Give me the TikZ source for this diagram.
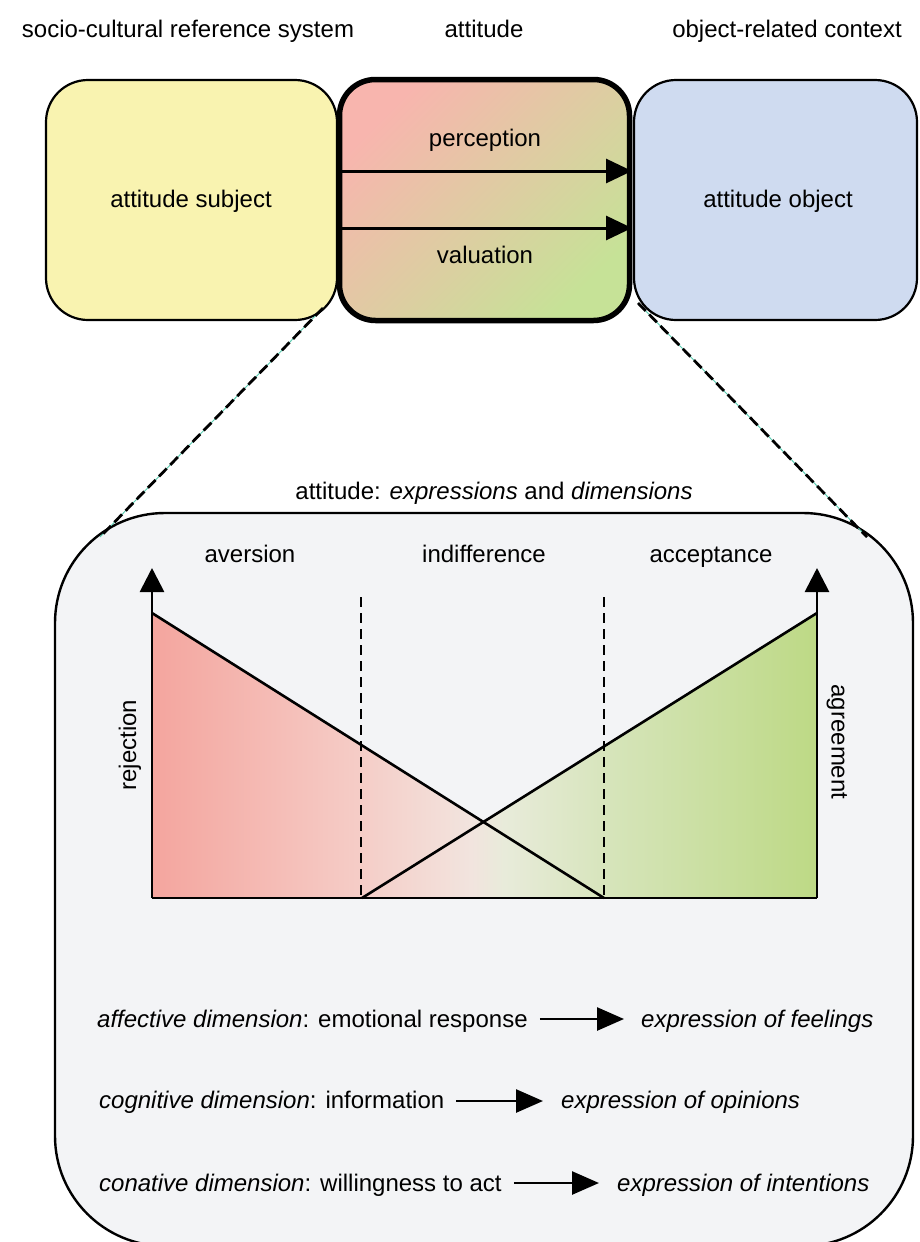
\documentclass[tikz,border=0pt]{standalone}
\usepackage{fontspec}
\setmainfont{Liberation Sans}
\usetikzlibrary{arrows.meta}
\definecolor{boxyellow}{HTML}{F9F3B0}
\definecolor{boxblue}{HTML}{CFDBF0}
\definecolor{panelgray}{HTML}{F3F4F6}
\definecolor{attpink}{HTML}{F8B5AE}
\definecolor{attmid}{HTML}{E2CDA2}
\definecolor{attgreen}{HTML}{C6E297}
\definecolor{guideteal}{HTML}{5ACBB0}
\pgfdeclarehorizontalshading{chartshade}{100bp}{rgb(0bp)=(0.957,0.647,0.620); rgb(25bp)=(0.957,0.647,0.620); rgb(40bp)=(0.961,0.796,0.773); rgb(49bp)=(0.949,0.894,0.871); rgb(51.5bp)=(0.91,0.922,0.855); rgb(60bp)=(0.835,0.894,0.722); rgb(75bp)=(0.741,0.851,0.522); rgb(100bp)=(0.741,0.851,0.522)}
\begin{document}
\begin{tikzpicture}[x=1pt,y=-1pt,
  every node/.style={font=\fontsize{24}{28}\selectfont, inner sep=0pt},
  sidebox/.style={draw=black, line width=2.2pt, rounded corners=42pt},
  bigarrow/.style={line width=3pt, -{Triangle[length=26pt,width=24pt]}},
  dimarrow/.style={line width=2.6pt, -{Triangle[length=27pt,width=23pt]}},
  axisarrow/.style={line width=2.8pt, -{Triangle[length=24pt,width=24pt]}},
  guide/.style={line width=2.8pt, dash pattern=on 11pt off 5pt},
  divider/.style={line width=2.2pt, dash pattern=on 10pt off 6pt},
  curve/.style={line width=2.6pt}]
\useasboundingbox (0,0) rectangle (919,1242);
\clip (0,0) rectangle (919,1242);

% top headings
\node[anchor=base] (hsoc) at (188,37.5) {socio-cultural reference system};
\node[anchor=base] (hatt) at (484,37.5) {attitude};
\node[anchor=base] (hobj) at (787,37.5) {object-related context};

% top boxes
\draw[sidebox, fill=boxyellow] (46,80) rectangle (337,320);
\draw[sidebox, fill=boxblue] (634,80) rectangle (917,320);
\path[rounded corners=36pt, top color=attpink, middle color=attmid, bottom color=attgreen, shading angle=45]
  (339.5,79.5) rectangle (629.5,320.5);
\draw[line width=5.5pt, rounded corners=36pt] (339.5,79.5) rectangle (629.5,320.5);

\node[anchor=base] (subj) at (191,207) {attitude subject};
\node[anchor=base] (obj) at (778,207) {attitude object};
\node[anchor=base] (perc) at (485,146) {perception};
\node[anchor=base] (valu) at (485,263) {valuation};

\coordinate (p1) at (340,171);
\coordinate (p2) at (632,171);
\coordinate (v1) at (340,228);
\coordinate (v2) at (632,228);
\draw[bigarrow] (p1) -- (p2);
\draw[bigarrow] (v1) -- (v2);

% lower panel
\draw[line width=2.4pt, fill=panelgray, rounded corners=110pt] (55,513) rectangle (913,1246);

% guide lines
\coordinate (gl1) at (323,308);
\coordinate (gl2) at (100,537);
\coordinate (gr1) at (638,303);
\coordinate (gr2) at (867,537);
\draw[guideteal, line width=0.9pt] (gl1) -- (gl2);
\draw[guideteal, line width=0.9pt] (gr1) -- (gr2);
\draw[guide] (gl1) -- (gl2);
\draw[guide] (gr1) -- (gr2);

\node[anchor=base] (title) at (494,499) {attitude: \textit{expressions} and \textit{dimensions}};

\node[anchor=base] (avers) at (250,562) {aversion};
\node[anchor=base] (indif) at (484,562) {indifference};
\node[anchor=base] (accep) at (711,562) {acceptance};
\node[rotate=90] (rej) at (130,745) {rejection};
\node[rotate=-90] (agr) at (837,742) {agreement};

% chart
\coordinate (o) at (152,898);
\coordinate (rt) at (152,613);
\coordinate (re) at (604,898);
\coordinate (gs) at (362,898);
\coordinate (gt) at (817,613);
\coordinate (ge) at (817,898);
\coordinate (ax1) at (152,568);
\coordinate (ax2) at (817,568);
\coordinate (cross) at (482.6,822.6);
\path[shading=chartshade] (rt) -- (cross) -- (gt) -- (ge) -- (o) -- cycle;
\draw[divider] (361,597) -- (361,898);
\draw[divider] (604,597) -- (604,898);
\draw[curve] (rt) -- (re);
\draw[curve] (gs) -- (gt);
\draw[curve] (o) -- (ge);
\draw[axisarrow] (o) -- (ax1);
\draw[axisarrow] (ge) -- (ax2);

% dimensions
\node[anchor=base west] (d1) at (97,1027) {\textit{affective dimension}: emotional response};
\node[anchor=base west] (e1) at (641,1027) {\textit{expression of feelings}};
\node[anchor=base west] (d2) at (99,1108) {\textit{cognitive dimension}: information};
\node[anchor=base west] (e2) at (561,1108) {\textit{expression of opinions}};
\node[anchor=base west] (d3) at (99,1191) {\textit{conative dimension}: willingness to act};
\node[anchor=base west] (e3) at (617,1191) {\textit{expression of intentions}};
\draw[dimarrow] ([xshift=12pt]d1.east |- 0,1019) -- ([xshift=-17pt]e1.west |- 0,1019);
\draw[dimarrow] ([xshift=12pt]d2.east |- 0,1101) -- ([xshift=-18pt]e2.west |- 0,1101);
\draw[dimarrow] ([xshift=12pt]d3.east |- 0,1183) -- ([xshift=-18pt]e3.west |- 0,1183);
\end{tikzpicture}
\end{document}
